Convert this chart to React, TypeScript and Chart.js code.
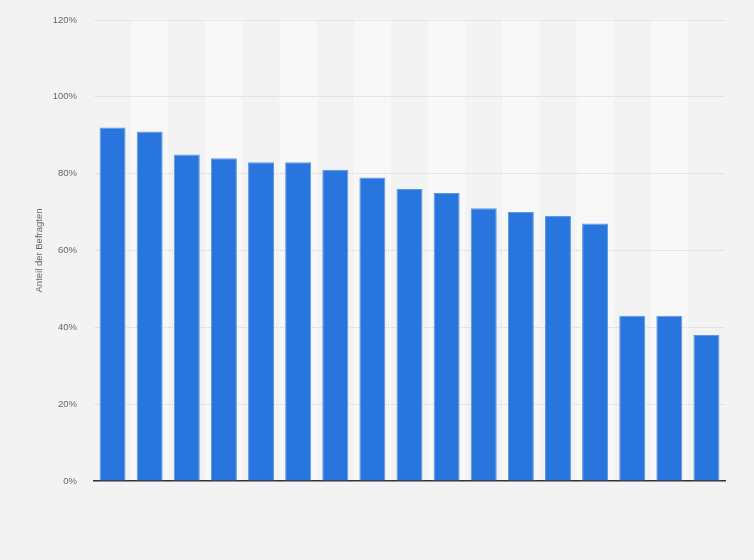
import { useEffect, useRef } from "react";
import Chart from "chart.js/auto";
import type { Plugin } from "chart.js";

// Kategorien sind im Original nicht beschriftet
const categories: string[] = [
  "1", "2", "3", "4", "5", "6", "7", "8", "9",
  "10", "11", "12", "13", "14", "15", "16", "17",
];

const shares: number[] = [
  92, 91, 85, 84, 83, 83, 81, 79, 76, 75, 71, 70, 69, 67, 43, 43, 38,
];

const yTicks: number[] = [0, 20, 40, 60, 80, 100, 120];

const yTitle = "Anteil der Befragten";

const BG = "#f3f3f3";
const STRIPE = "#f8f8f8";
const BAR = "#2876dd";

const backgroundPlugin: Plugin<"bar"> = {
  id: "pageBackground",
  beforeDraw(chart) {
    const { ctx, width, height, chartArea, scales } = chart;
    ctx.save();
    ctx.fillStyle = BG;
    ctx.fillRect(0, 0, width, height);

    // abwechselnde helle Spalten
    const x = scales.x;
    const step = (chartArea.right - chartArea.left) / categories.length;
    ctx.fillStyle = STRIPE;
    categories.forEach((_, i) => {
      if (i % 2 === 1) {
        const cx = x.getPixelForValue(i);
        ctx.fillRect(cx - step / 2, chartArea.top - 1, step, chartArea.bottom - chartArea.top + 1);
      }
    });
    ctx.restore();
  },
};

export default function App() {
  const canvasRef = useRef<HTMLCanvasElement>(null);

  useEffect(() => {
    if (!canvasRef.current) return;

    const chart = new Chart(canvasRef.current, {
      type: "bar",
      data: {
        labels: categories,
        datasets: [
          {
            data: shares,
            backgroundColor: BAR,
            borderColor: "#5d98e6",
            borderWidth: 1,
            barPercentage: 0.7,
            categoryPercentage: 1,
          },
        ],
      },
      options: {
        animation: false,
        responsive: false,
        maintainAspectRatio: false,
        devicePixelRatio: 1,
        layout: {
          padding: { left: 0, right: 29, top: 20, bottom: 79 },
        },
        plugins: {
          legend: { display: false },
          tooltip: { enabled: false },
          title: { display: false },
        },
        scales: {
          x: {
            ticks: { display: false },
            grid: { display: false, drawTicks: false },
            border: { display: true, color: "#333333", width: 1.5 },
          },
          y: {
            min: 0,
            max: 120,
            afterBuildTicks: (scale) => {
              scale.ticks = yTicks.map((v) => ({ value: v }));
            },
            afterFit: (scale) => {
              scale.width = 94;
              // Tick-Abstand soll den oberen Rand nicht vergrößern
              scale.paddingTop = 6;
              scale.paddingBottom = 6;
            },
            ticks: {
              padding: 17,
              color: "#666666",
              font: { family: "Arial, 'Liberation Sans', sans-serif", size: 9.5 },
              callback: (value) => `${value}%`,
            },
            grid: {
              drawTicks: false,
              color: (ctx) =>
                ctx.tick && ctx.tick.value === 0 ? "rgba(0,0,0,0)" : "#d4d4d4",
              lineWidth: 1,
            },
            border: { display: false, dash: [1, 1] },
            title: {
              display: true,
              text: yTitle,
              color: "#666666",
              font: { family: "Arial, 'Liberation Sans', sans-serif", size: 9.5 },
              padding: { top: 34, bottom: 0 },
            },
          },
        },
      },
      plugins: [backgroundPlugin],
    });

    return () => chart.destroy();
  }, []);

  return (
    <div
      style={{
        position: "fixed",
        left: 0,
        top: 0,
        width: 754,
        height: 560,
        background: BG,
      }}
    >
      <canvas ref={canvasRef} width={754} height={560} style={{ width: 754, height: 560 }} />
    </div>
  );
}
